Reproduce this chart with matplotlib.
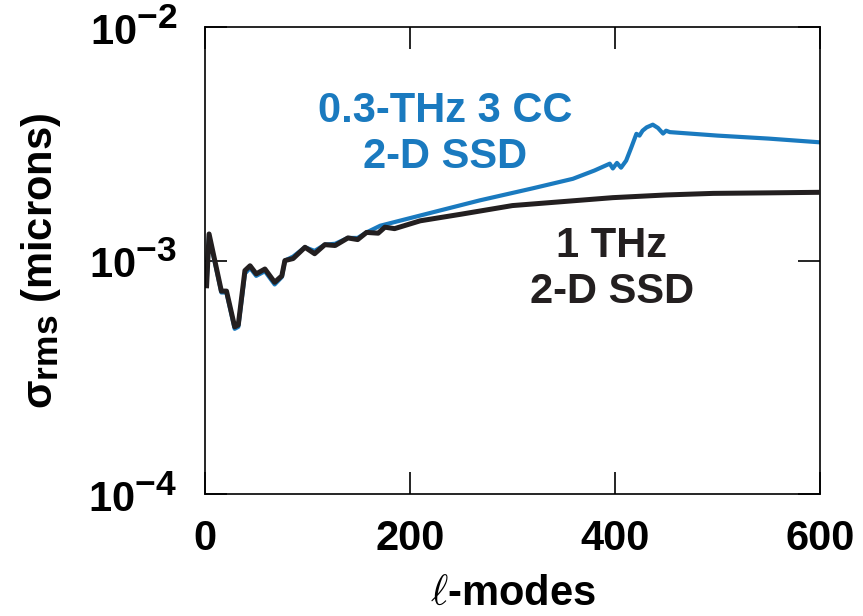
import numpy as np
import matplotlib
matplotlib.use("Agg")
import matplotlib.pyplot as plt
import matplotlib._mathtext as mathtext_internal

# bigger super/subscripts, like the original figure
mathtext_internal.SHRINK_FACTOR = 0.85

plt.rcParams['font.family'] = ['Liberation Sans', 'DejaVu Sans']
plt.rcParams['font.weight'] = 'bold'
plt.rcParams['mathtext.fontset'] = 'custom'
plt.rcParams['mathtext.rm'] = 'Liberation Sans:bold'
plt.rcParams['mathtext.bf'] = 'Liberation Sans:bold'
plt.rcParams['mathtext.it'] = 'DejaVu Serif:italic'

# ---------------------------------------------
# data
# ---------------------------------------------
x_1thz = [1.6, 4, 16, 21, 29, 32.5, 39, 44, 50, 58.5, 68, 75, 78, 86, 97.6, 107, 117, 127,
          139.5, 149, 157.7, 169, 175.6, 185, 210, 250, 300, 350, 398, 450, 496, 550, 597]
y_1thz = [7.8e-4, 1.30e-3, 7.4e-4, 7.4e-4, 5.2e-4, 5.3e-4, 9.06e-4, 9.5e-4, 8.77e-4, 9.2e-4,
          8.07e-4, 8.6e-4, 1.0e-3, 1.02e-3, 1.14e-3, 1.07e-3, 1.17e-3, 1.16e-3, 1.25e-3,
          1.23e-3, 1.32e-3, 1.31e-3, 1.39e-3, 1.37e-3, 1.48e-3, 1.58e-3, 1.72e-3, 1.79e-3,
          1.86e-3, 1.91e-3, 1.94e-3, 1.95e-3, 1.96e-3]

x_03thz = [1.6, 4, 16, 21, 29, 32.5, 39, 44, 50, 58.5, 68, 75, 78, 86, 97.6, 107, 117, 127,
           139.5, 149, 157.7, 171, 220, 268, 320, 359, 380, 395, 398, 402, 406, 411, 416,
           421, 424, 427, 431, 437, 442, 447, 450, 453.6, 500, 550, 600]
y_03thz = [8.0e-4, 1.28e-3, 7.3e-4, 7.3e-4, 5.1e-4, 5.2e-4, 8.8e-4, 9.3e-4, 8.6e-4, 9.0e-4,
           7.9e-4, 8.5e-4, 1.0e-3, 1.04e-3, 1.14e-3, 1.10e-3, 1.17e-3, 1.18e-3, 1.25e-3,
           1.25e-3, 1.32e-3, 1.41e-3, 1.60e-3, 1.81e-3, 2.04e-3, 2.24e-3, 2.43e-3, 2.60e-3,
           2.48e-3, 2.62e-3, 2.50e-3, 2.68e-3, 3.05e-3, 3.49e-3, 3.43e-3, 3.60e-3, 3.72e-3,
           3.82e-3, 3.70e-3, 3.50e-3, 3.60e-3, 3.55e-3, 3.43e-3, 3.33e-3, 3.21e-3]

x_ticks = [0, 200, 400, 600]
y_ticks = [1e-4, 1e-3, 1e-2]
y_tick_labels = [r'$10^{-4}$', r'$10^{-3}$', r'$10^{-2}$']

blue = '#1a7abf'
dark = '#231f20'
font_size = 30

fig = plt.figure(figsize=(8.63, 6.16), dpi=100)
ax = fig.add_axes([0.2375, 0.198, 0.7125, 0.758])

ax.plot(x_03thz, y_03thz, c=blue, linewidth=3.0, solid_joinstyle='round')
ax.plot(x_1thz, y_1thz, c=dark, linewidth=3.6, solid_joinstyle='round')

ax.set_yscale('log')
ax.set_xlim(0, 600)
ax.set_ylim(1e-4, 1e-2)
ax.set_xticks(x_ticks)
ax.set_yticks(y_ticks)
ax.set_yticklabels(y_tick_labels)
ax.minorticks_off()
ax.tick_params(direction='in', length=16, width=1.2, top=True, right=True,
               labelsize=font_size)
ax.tick_params(axis='x', pad=18)
ax.tick_params(axis='y', pad=20)
for s in ax.spines.values():
    s.set_linewidth(1.2)

ax.set_xlabel(r'$\ell$-modes', fontsize=font_size, fontweight='bold', labelpad=11)
ax.set_ylabel(r'$\mathrm{\sigma}_{\mathrm{rms}}$ (microns)', fontsize=font_size,
              fontweight='bold', labelpad=18)

ax.text(234, 3.48e-3, '0.3-THz 3 CC\n2-D SSD', color=blue, fontsize=font_size,
        fontweight='bold', ha='center', va='center', linespacing=1.2)
ax.text(397, 9.2e-4, '1 THz\n2-D SSD', color=dark, fontsize=font_size,
        fontweight='bold', ha='center', va='center', linespacing=1.2)

plt.savefig('out.png', dpi=100)
